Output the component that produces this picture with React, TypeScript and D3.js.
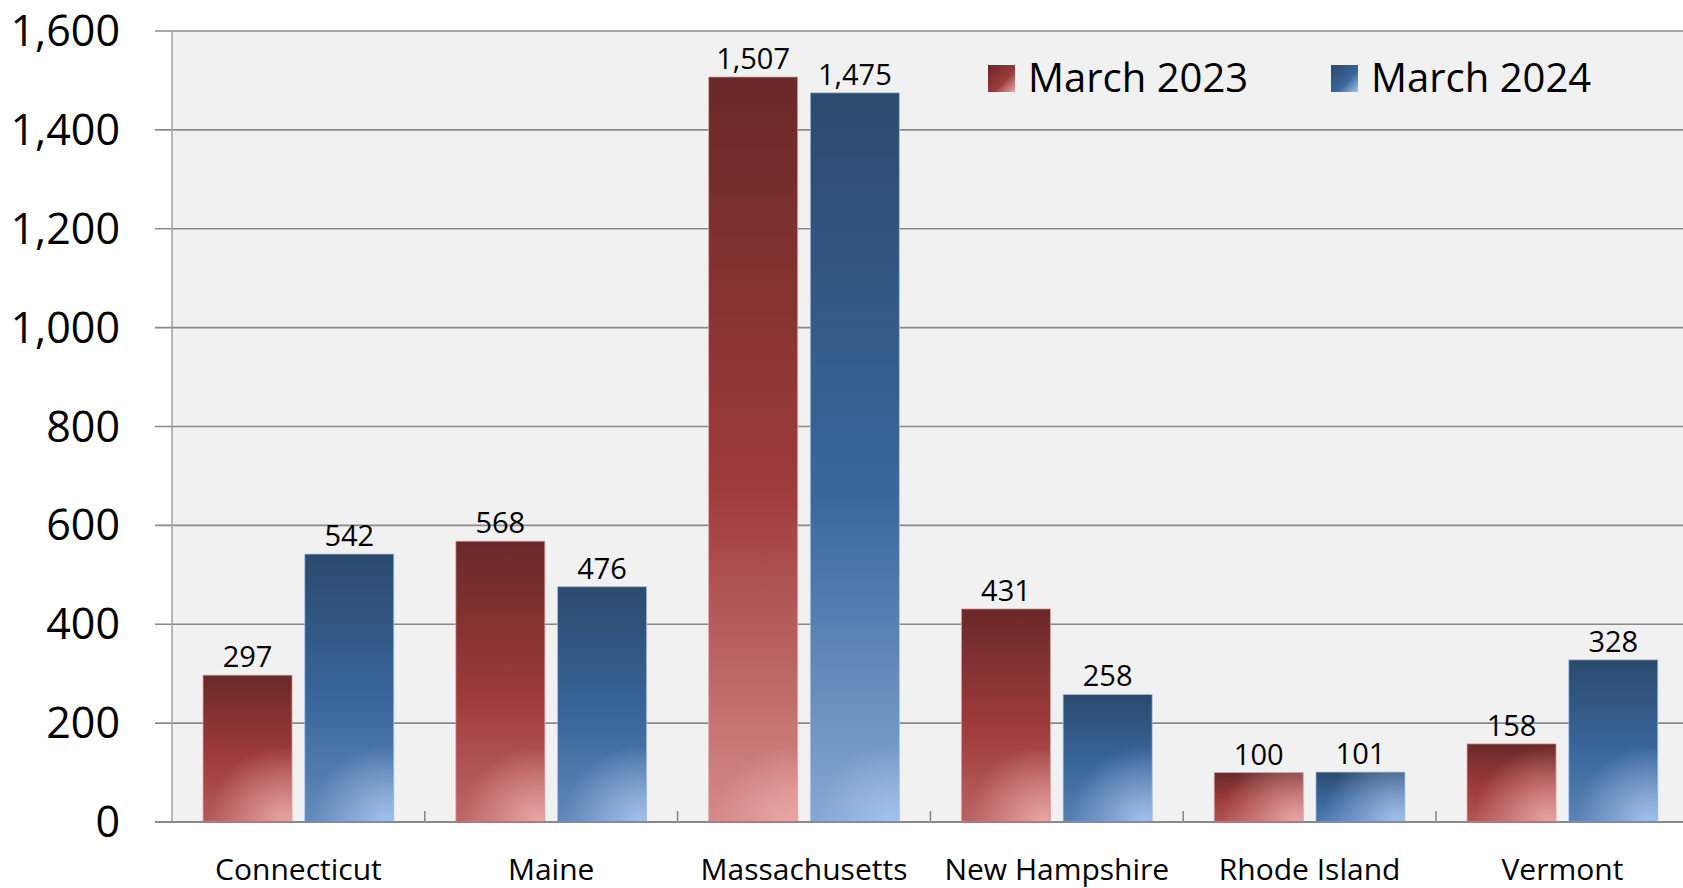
import React, { useEffect, useRef } from 'react';
import * as d3 from 'd3';

const states = ['Connecticut', 'Maine', 'Massachusetts', 'New Hampshire', 'Rhode Island', 'Vermont'];
const march2023 = [297, 568, 1507, 431, 100, 158];
const march2024 = [542, 476, 1475, 258, 101, 328];
const seriesNames = ['March 2023', 'March 2024'];
const yTicks = [0, 200, 400, 600, 800, 1000, 1200, 1400, 1600];

const W = 1683;
const H = 888;
const FONT = '"Segoe UI", "Open Sans", "Noto Sans", sans-serif';

const palettes = [
  { top: '#6a2828', mid: '#9e3b3b', bottom: '#d68a8a', light: '#eba8a8', edge: '#e4a4a4' },
  { top: '#2b4a6e', mid: '#3a669b', bottom: '#86a8d4', light: '#a6c4ec', edge: '#a6c3ea' },
];

const App: React.FC = () => {
  const svgRef = useRef<SVGSVGElement>(null);

  useEffect(() => {
    if (!svgRef.current) return;
    const svg = d3.select(svgRef.current);
    svg.selectAll('*').remove();

    const left = 172;
    const top = 31;
    const bottom = 822;
    const step = 252.8;
    const right = left + step * states.length;

    const x = d3.scaleBand<string>().domain(states).range([left, right]).padding(0);
    const xs = d3
      .scaleBand<number>()
      .domain([0, 1])
      .range([0, x.bandwidth()])
      .paddingInner(0.125)
      .paddingOuter(0.305);
    const y = d3.scaleLinear().domain([0, 1600]).range([bottom, top]);

    const defs = svg.append('defs');

    svg.append('rect').attr('width', W).attr('height', H).attr('fill', '#ffffff');

    // plot area
    svg
      .append('rect')
      .attr('x', left)
      .attr('y', top)
      .attr('width', right - left)
      .attr('height', bottom - top)
      .attr('fill', '#f1f1f1');

    // gridlines + y labels
    yTicks.forEach((t) => {
      if (t > 0) {
        svg
          .append('line')
          .attr('x1', 155)
          .attr('x2', right)
          .attr('y1', y(t))
          .attr('y2', y(t))
          .attr('stroke', '#8a8a8a')
          .attr('stroke-width', 1.6);
      }
      svg
        .append('text')
        .attr('x', 120)
        .attr('y', y(t))
        .attr('dy', '0.35em')
        .attr('text-anchor', 'end')
        .attr('font-family', FONT)
        .attr('font-size', 43)
        .attr('fill', '#000')
        .text(d3.format(',')(t));
    });

    svg
      .append('line')
      .attr('x1', left)
      .attr('x2', left)
      .attr('y1', top)
      .attr('y2', bottom)
      .attr('stroke', '#a0a0a0')
      .attr('stroke-width', 1.5);

    // bars
    const series = [march2023, march2024];
    series.forEach((vals, si) => {
      const p = palettes[si];
      vals.forEach((v, ci) => {
        const bx = (x(states[ci]) as number) + (xs(si) as number);
        const bw = xs.bandwidth();
        const by = y(v);
        const bh = bottom - by;

        // taller bars fade further toward the light tone at the base
        const k = Math.min(1, bh / 650);
        const lg = defs
          .append('linearGradient')
          .attr('id', `lin${si}_${ci}`)
          .attr('x1', 0)
          .attr('y1', 0)
          .attr('x2', 0)
          .attr('y2', 1);
        lg.append('stop').attr('offset', '0%').attr('stop-color', p.top);
        lg.append('stop').attr('offset', '55%').attr('stop-color', p.mid);
        lg.append('stop').attr('offset', '100%').attr('stop-color', d3.interpolateRgb(p.mid, p.bottom)(0.25 + 0.75 * k));

        const rg = defs
          .append('radialGradient')
          .attr('id', `rad${si}_${ci}`)
          .attr('gradientUnits', 'userSpaceOnUse')
          .attr('cx', bx + bw * 0.92)
          .attr('cy', bottom)
          .attr('r', bw * 0.85);
        rg.append('stop').attr('offset', '0%').attr('stop-color', p.light).attr('stop-opacity', 0.95);
        rg.append('stop').attr('offset', '50%').attr('stop-color', p.light).attr('stop-opacity', 0.45);
        rg.append('stop').attr('offset', '100%').attr('stop-color', p.light).attr('stop-opacity', 0);

        svg
          .append('rect')
          .attr('x', bx)
          .attr('y', by)
          .attr('width', bw)
          .attr('height', bh)
          .attr('fill', `url(#lin${si}_${ci})`);
        svg
          .append('rect')
          .attr('x', bx)
          .attr('y', by)
          .attr('width', bw)
          .attr('height', bh)
          .attr('fill', `url(#rad${si}_${ci})`)
          .attr('stroke', p.edge)
          .attr('stroke-opacity', 0.7)
          .attr('stroke-width', 1);

        svg
          .append('text')
          .attr('x', bx + bw / 2)
          .attr('y', by - 8)
          .attr('text-anchor', 'middle')
          .attr('font-family', FONT)
          .attr('font-size', 29)
          .attr('fill', '#000')
          .text(d3.format(',')(v));
      });
    });

    // baseline and category ticks
    svg
      .append('line')
      .attr('x1', 155)
      .attr('x2', right)
      .attr('y1', bottom)
      .attr('y2', bottom)
      .attr('stroke', '#8a8a8a')
      .attr('stroke-width', 2);

    states.forEach((s, i) => {
      if (i > 0) {
        const tx = x(s) as number;
        svg
          .append('line')
          .attr('x1', tx)
          .attr('x2', tx)
          .attr('y1', bottom - 11)
          .attr('y2', bottom)
          .attr('stroke', '#8a8a8a')
          .attr('stroke-width', 1.6);
      }
      svg
        .append('text')
        .attr('x', (x(s) as number) + x.bandwidth() / 2)
        .attr('y', 880)
        .attr('text-anchor', 'middle')
        .attr('font-family', FONT)
        .attr('font-size', 30)
        .attr('fill', '#000')
        .text(s);
    });

    // legend
    const legendX = [988, 1331];
    seriesNames.forEach((name, i) => {
      const lgId = `leg${i}`;
      const g = defs
        .append('linearGradient')
        .attr('id', lgId)
        .attr('x1', 0)
        .attr('y1', 0)
        .attr('x2', 1)
        .attr('y2', 1);
      g.append('stop').attr('offset', '0%').attr('stop-color', palettes[i].top);
      g.append('stop').attr('offset', '60%').attr('stop-color', palettes[i].mid);
      g.append('stop').attr('offset', '100%').attr('stop-color', palettes[i].light);
      svg
        .append('rect')
        .attr('x', legendX[i])
        .attr('y', 65)
        .attr('width', 27)
        .attr('height', 27)
        .attr('fill', `url(#${lgId})`);
      svg
        .append('text')
        .attr('x', legendX[i] + 40)
        .attr('y', 92)
        .attr('font-family', FONT)
        .attr('font-size', 40)
        .attr('fill', '#000')
        .text(name);
    });
  }, []);

  return (
    <div style={{ position: 'fixed', left: 0, top: 0, width: W, height: H, overflow: 'hidden' }}>
      <svg ref={svgRef} width={W} height={H} style={{ display: 'block' }} />
    </div>
  );
};

export default App;
